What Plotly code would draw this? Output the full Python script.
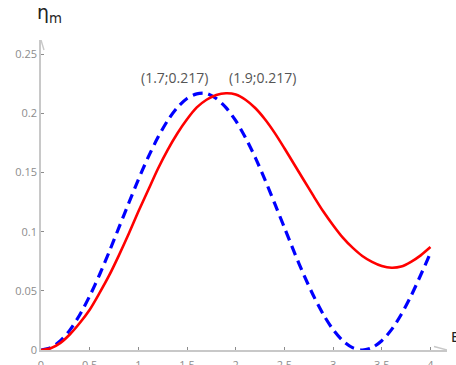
import plotly.graph_objects as go

x_vals = [0.0, 0.1, 0.2, 0.3, 0.4, 0.5, 0.6, 0.7, 0.8, 0.9,
          1.0, 1.1, 1.2, 1.3, 1.4, 1.5, 1.6, 1.7, 1.8, 1.9,
          2.0, 2.1, 2.2, 2.3, 2.4, 2.5, 2.6, 2.7, 2.8, 2.9,
          3.0, 3.1, 3.2, 3.3, 3.4, 3.5, 3.6, 3.7, 3.8, 3.9, 4.0]

red_vals = [0.0, 0.0015, 0.006, 0.0135, 0.023, 0.034, 0.048, 0.063, 0.080, 0.098,
            0.117, 0.135, 0.153, 0.169, 0.183, 0.195, 0.205, 0.2115, 0.2155, 0.217,
            0.216, 0.2115, 0.2045, 0.195, 0.1835, 0.1705, 0.157, 0.1435, 0.130, 0.117,
            0.1055, 0.095, 0.0865, 0.0795, 0.0745, 0.071, 0.0695, 0.0705, 0.0745, 0.080, 0.087]

blue_vals = [0.0, 0.002, 0.0078, 0.0172, 0.030, 0.0456, 0.0634, 0.0829, 0.1034, 0.1239,
             0.144, 0.1628, 0.1795, 0.1938, 0.2049, 0.2126, 0.2165, 0.2168, 0.2126, 0.2049,
             0.1938, 0.1795, 0.1628, 0.144, 0.1239, 0.1034, 0.0829, 0.0634, 0.0456, 0.030,
             0.0172, 0.0078, 0.002, 0.0, 0.002, 0.0078, 0.0172, 0.030, 0.0456, 0.0634, 0.082]

x_ticks = [0, 0.5, 1, 1.5, 2, 2.5, 3, 3.5, 4]
x_tick_labels = ["0", "0.5", "1", "1.5", "2", "2.5", "3", "3.5", "4"]
y_ticks = [0, 0.05, 0.1, 0.15, 0.2, 0.25]
y_tick_labels = ["0", "0.05", "0.1", "0.15", "0.2", "0.25"]

peak_labels = [
    {"text": "(1.7;0.217)", "x": 1.37, "y": 0.230},
    {"text": "(1.9;0.217)", "x": 2.28, "y": 0.230},
]

axis_gray = "#c8c8c8"
tick_gray = "#8c8c8c"

fig = go.Figure()
fig.add_trace(go.Scatter(x=x_vals, y=blue_vals, mode="lines", line_shape="spline",
                         line=dict(color="#0000ff", width=3.2, dash="10px,6px", smoothing=0.8),
                         showlegend=False, hoverinfo="skip"))
fig.add_trace(go.Scatter(x=x_vals, y=red_vals, mode="lines", line_shape="spline",
                         line=dict(color="#ff0000", width=2.6, smoothing=0.8),
                         showlegend=False, hoverinfo="skip"))

fig.update_xaxes(range=[0, 4.17], tickvals=x_ticks, ticktext=x_tick_labels,
                 showgrid=False, zeroline=False, showline=True, linecolor=axis_gray,
                 linewidth=1.6, ticks="inside", ticklen=3, tickcolor=tick_gray,
                 ticklabelstandoff=4, automargin=False,
                 tickfont=dict(family="Open Sans", size=11, color=tick_gray))
fig.update_yaxes(range=[0, 0.262], tickvals=y_ticks, ticktext=y_tick_labels,
                 showgrid=False, zeroline=False, showline=True, linecolor=axis_gray,
                 linewidth=1.6, ticks="inside", ticklen=3, tickcolor=tick_gray,
                 automargin=False,
                 tickfont=dict(family="Open Sans", size=11, color=tick_gray))

# axis arrowheads
fig.add_shape(type="path", xref="x", yref="y", xsizemode="pixel", ysizemode="pixel",
              xanchor=4.17, yanchor=0, path="M-13,-3.5 L0,0 L-13,3.5",
              line=dict(color=axis_gray, width=1.4))
fig.add_shape(type="path", xref="x", yref="y", xsizemode="pixel", ysizemode="pixel",
              xanchor=0, yanchor=0.262, path="M-3,-10 L0,0 L3,-10",
              line=dict(color=axis_gray, width=1.4))

for p in peak_labels:
    fig.add_annotation(x=p["x"], y=p["y"], text=p["text"], showarrow=False,
                       font=dict(family="Open Sans", size=14, color="#555555"))

fig.add_annotation(xref="paper", yref="paper", x=-0.015, y=1.0, yshift=12,
                   xanchor="left", yanchor="bottom", showarrow=False,
                   text="η<sub>m</sub>",
                   font=dict(family="DejaVu Sans", size=19, color="#222222"))
fig.add_annotation(xref="paper", yref="y", x=1.0, y=0.011, xshift=2,
                   xanchor="left", yanchor="middle", showarrow=False,
                   text="E", font=dict(family="DejaVu Sans", size=14, color="#222222"))

fig.update_layout(width=456, height=365, margin=dict(l=41, r=9, t=40, b=15, autoexpand=False),
                  plot_bgcolor="white", paper_bgcolor="white")

fig.write_html("out.html")
